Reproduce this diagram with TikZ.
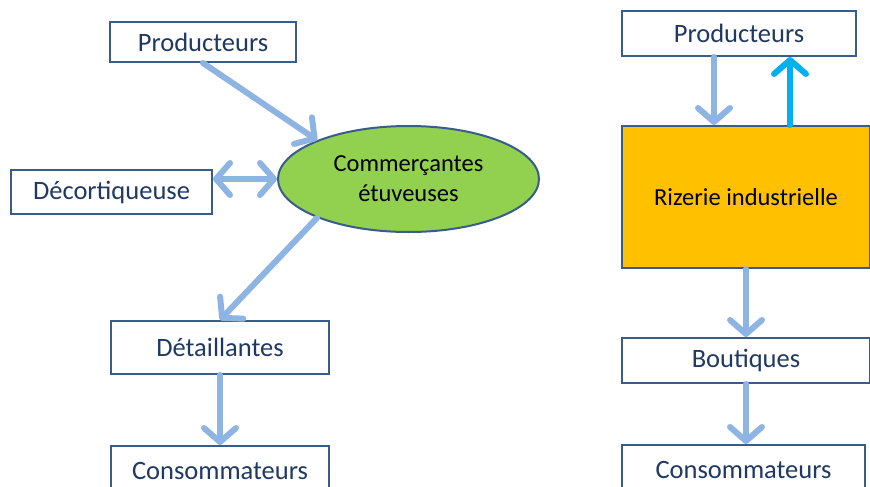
\documentclass[tikz,border=0pt]{standalone}
\usepackage{fontspec}
\setmainfont{Carlito}
\usetikzlibrary{arrows.meta,shapes.geometric}
\definecolor{xArrow}{RGB}{141,180,226}
\definecolor{xCyan}{RGB}{0,176,240}
\definecolor{xBorder}{RGB}{56,93,138}
\definecolor{xText}{RGB}{31,56,100}
\definecolor{xGreen}{RGB}{146,208,80}
\definecolor{xGold}{RGB}{255,192,0}

\begin{document}
\begin{tikzpicture}[
    x=1pt,y=-1pt,
    box/.style={
        draw=xBorder,
        line width=2pt,
        fill=white,
        text=xText,
        inner sep=0pt,
        font=\fontsize{26.5}{30}\selectfont
    },
    barb/.tip={Straight Barb[length=14pt,width=32pt,line width=6pt,round]},
    flow/.style={
        xArrow,
        line width=6pt,
        line cap=round,
        -barb
    },
    flowboth/.style={
        flow,
        barb-barb
    },
    flowup/.style={
        flow,
        xCyan
    }
]

    % -------------------------------------------------
    % Canvas of the slide
    % -------------------------------------------------
    \useasboundingbox (0,0) rectangle (870,487);
    \fill[white] (0,0) rectangle (870,487);

    % -------------------------------------------------
    % Left chain: artisanal parboiling
    % -------------------------------------------------
    \node[box, minimum width=186pt, minimum height=40pt]
        (prodL) at (203,42) {Producteurs};
    \node[box, minimum width=201pt, minimum height=44pt]
        (decort) at (111.5,192) {Décortiqueuse};
    \node[
        ellipse,
        draw=xBorder,
        line width=2pt,
        fill=xGreen,
        minimum width=261pt,
        minimum height=106pt,
        inner sep=0pt,
        align=center,
        font=\fontsize{24.5}{30}\selectfont
    ] (ell) at (408.5,179) {Commerçantes\\étuveuses};
    \node[box, minimum width=218pt, minimum height=53pt]
        (detail) at (220,347.5) {Détaillantes};
    \node[box, minimum width=218pt, minimum height=50pt]
        (consL) at (220,471) {Consommateurs};

    % -------------------------------------------------
    % Right chain: industrial mill
    % -------------------------------------------------
    \node[box, minimum width=234pt, minimum height=45pt]
        (prodR) at (739,33.5) {Producteurs};
    \node[
        box,
        fill=xGold,
        text=black,
        minimum width=248pt,
        minimum height=142pt,
        font=\fontsize{24.5}{30}\selectfont
    ] (rizerie) at (746,197) {Rizerie industrielle};
    \node[box, minimum width=248pt, minimum height=45pt]
        (bout) at (746,360.5) {Boutiques};
    \node[box, minimum width=243pt, minimum height=50pt]
        (consR) at (743.5,470) {Consommateurs};

    % -------------------------------------------------
    % Flows, drawn last so that the tips sit on the borders
    % -------------------------------------------------
    \draw[flow] (prodL.south) -- (ell.157);
    \draw[flowboth] (decort.east |- ell.west) -- (ell.west);
    \draw[flow] (ell.203) -- (detail.north);
    \draw[flow] (detail.south) -- (consL.north);

    \draw[flow]
        ([xshift=-25pt]prodR.south) --
        ([xshift=-25pt]prodR.south |- rizerie.north);
    \draw[flowup]
        ([xshift=51pt]prodR.south |- rizerie.north) --
        ([xshift=51pt]prodR.south);
    \draw[flow] (rizerie.south) -- (bout.north);
    \draw[flow] (bout.south) -- (bout.south |- consR.north);
\end{tikzpicture}
\end{document}
